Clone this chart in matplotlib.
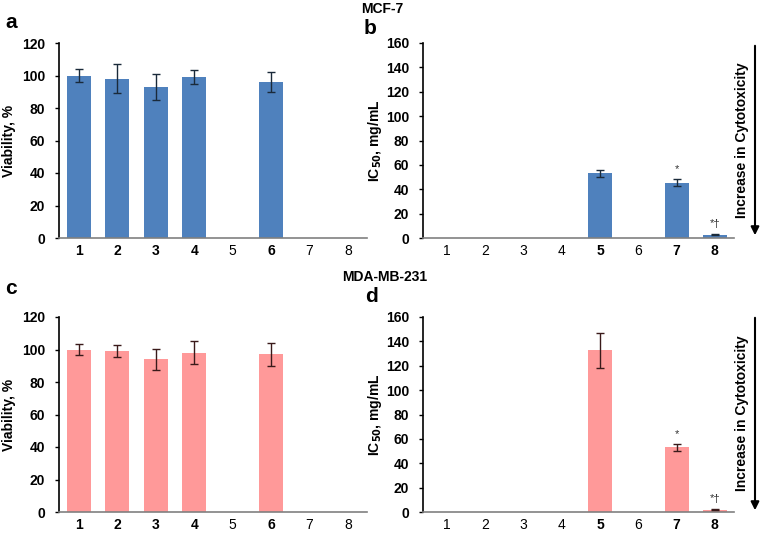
import matplotlib
matplotlib.use('Agg')
import matplotlib.pyplot as plt
import numpy as np

plt.rcParams['font.family'] = ['Liberation Sans', 'DejaVu Sans']

# Data
groups = [1, 2, 3, 4, 5, 6, 7, 8]

mcf7_viab = [100, 98, 93, 99, 0, 96, 0, 0]
mcf7_viab_err = [4.2, 9, 7.8, 4.5, 0, 6, 0, 0]
mcf7_ic50 = [0, 0, 0, 0, 53, 0, 45.5, 2.7]
mcf7_ic50_err = [0, 0, 0, 0, 3, 0, 3, 0.5]

mda_viab = [100, 99, 94, 98, 0, 97, 0, 0]
mda_viab_err = [3.3, 3.7, 6.4, 7.2, 0, 7.2, 0, 0]
mda_ic50 = [0, 0, 0, 0, 132.7, 0, 53, 1.9]
mda_ic50_err = [0, 0, 0, 0, 14.4, 0, 3, 0.3]

# significance marks above bars: (group, label)
mcf7_marks = [(7, '*'), (8, '*\u2020')]
mda_marks = [(7, '*'), (8, '*\u2020')]

BLUE = '#4F81BD'
PINK = '#FF9999'

W, H = 761, 535
fig = plt.figure(figsize=(W / 100, H / 100), dpi=100)


def px_axes(x0, x1, ytop, ybot):
    return fig.add_axes([x0 / W, 1 - ybot / H, (x1 - x0) / W, (ybot - ytop) / H])


def draw_panel(ax, values, errs, color, ecolor, ymax, ylabel, xlim, marks=None, labelpad=4):
    x = np.array(groups)
    vals = np.array(values, dtype=float)
    er = np.array(errs, dtype=float)
    has = vals > 0
    ax.bar(x[has], vals[has], width=0.63, color=color, edgecolor='none', zorder=2)
    ax.errorbar(x[has], vals[has], yerr=er[has], fmt='none', ecolor=ecolor,
                elinewidth=1, capsize=3, capthick=1, zorder=3)
    if marks:
        for g, lab in marks:
            top = vals[g - 1] + er[g - 1]
            ax.text(g, top + ymax * 0.025, lab, ha='center', va='bottom',
                    fontsize=8, color='#333333')
    ax.set_xlim(*xlim)
    ax.set_ylim(0, ymax)
    ax.set_yticks(np.arange(0, ymax + 1, 20))
    ax.set_xticks(groups)
    ax.set_xticklabels([str(g) for g in groups], fontsize=10)
    for lab, h in zip(ax.get_xticklabels(), has):
        lab.set_fontweight('bold' if h else 'normal')
    for lab in ax.get_yticklabels():
        lab.set_fontweight('bold')
        lab.set_fontsize(10)
    ax.tick_params(axis='x', length=0, pad=4)
    ax.tick_params(axis='y', length=3, width=1, direction='out', pad=7)
    ax.spines['top'].set_visible(False)
    ax.spines['right'].set_visible(False)
    ax.spines['left'].set_color('black')
    ax.spines['left'].set_linewidth(1.2)
    ax.spines['bottom'].set_color('#808080')
    ax.spines['bottom'].set_linewidth(1.2)
    ax.set_ylabel(ylabel, fontsize=10, fontweight='bold', labelpad=labelpad)


ax_a = px_axes(59, 367, 43, 238)
draw_panel(ax_a, mcf7_viab, mcf7_viab_err, BLUE, '#1a2a3a', 120,
           'Viability, %', (0.48, 8.5))
ax_b = px_axes(423, 734, 43, 238)
draw_panel(ax_b, mcf7_ic50, mcf7_ic50_err, BLUE, '#1a2a3a', 160,
           r'IC$_{\mathbf{50}}$, mg/mL', (0.37, 8.5), mcf7_marks, labelpad=1)
ax_c = px_axes(59, 367, 317, 512)
draw_panel(ax_c, mda_viab, mda_viab_err, PINK, '#3a1a1a', 120,
           'Viability, %', (0.48, 8.5))
ax_d = px_axes(423, 734, 317, 512)
draw_panel(ax_d, mda_ic50, mda_ic50_err, PINK, '#3a1a1a', 160,
           r'IC$_{\mathbf{50}}$, mg/mL', (0.37, 8.5), mda_marks, labelpad=1)

# cell-line titles
fig.text(382 / W, 1 - 9 / H, 'MCF-7', ha='center', va='center', fontsize=10, fontweight='bold')
fig.text(385 / W, 1 - 277 / H, 'MDA-MB-231', ha='center', va='center', fontsize=10, fontweight='bold')

# panel letters
for lab, (px, py) in zip('abcd', [(11, 23), (370, 29), (11, 289), (372, 296)]):
    fig.text(px / W, 1 - py / H, lab, ha='center', va='center', fontsize=15, fontweight='bold')

# cytotoxicity arrows
for ytop, ybot, ymid in [(43, 238, 140), (315, 513, 413)]:
    fig.add_artist(matplotlib.patches.FancyArrowPatch(
        (755 / W, 1 - ytop / H), (755 / W, 1 - ybot / H),
        transform=fig.transFigure, arrowstyle='-|>', mutation_scale=12,
        color='black', linewidth=1.5))
    fig.text(742 / W, 1 - ymid / H, 'Increase in Cytotoxicity', rotation=90,
             ha='center', va='center', fontsize=10, fontweight='bold')

fig.savefig('out.png', dpi=100, facecolor='white')
plt.close(fig)
